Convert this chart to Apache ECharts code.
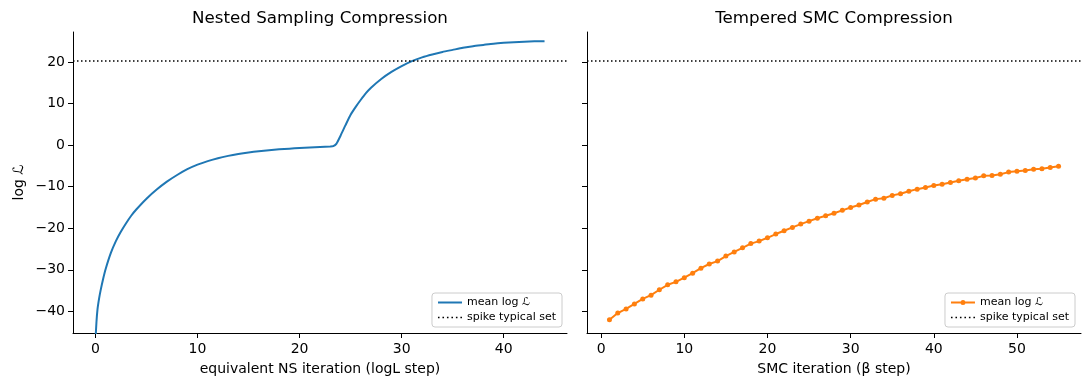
<!DOCTYPE html>
<html>
<head>
<meta charset="utf-8">
<script src="https://cdn.jsdelivr.net/npm/echarts@6/dist/echarts.min.js"></script>
<style>
  html, body { margin: 0; padding: 0; background: #fff; }
  #chart { width: 1089px; height: 390px; }
</style>
</head>
<body>
<div id="chart"></div>
<script>
// nested sampling: equivalent NS iteration vs mean log L
const nsX = [0, 0.1, 0.2, 0.35, 0.5, 0.75, 1, 1.5, 2, 2.5, 3, 3.5, 4, 5, 6, 7, 8, 9, 10,
  11, 12, 13, 14, 15, 16, 17, 18, 19, 20, 21, 22, 23, 23.3, 23.6, 24, 24.5, 25, 25.5, 26,
  26.5, 27, 28, 29, 30, 31, 32, 33, 34, 35, 36, 37, 38, 39, 40, 41, 42, 43, 44];
const nsY = [-47, -42.5, -39.5, -37, -35, -32.2, -29.8, -26, -23.1, -20.8, -18.8, -17.0, -15.5, -12.9, -10.7, -8.8, -7.2, -5.8, -4.7,
  -3.85, -3.15, -2.6, -2.15, -1.78, -1.48, -1.22, -1.02, -0.86, -0.71, -0.57, -0.45, -0.33, -0.25, 0.3, 2.2, 4.8, 7.3, 9.2, 10.9,
  12.5, 13.8, 15.9, 17.6, 19.0, 20.2, 21.1, 21.8, 22.4, 22.9, 23.4, 23.8, 24.1, 24.4, 24.6, 24.75, 24.85, 24.95, 25.0];

// tempered SMC: beta step vs mean log L
const smcX = [1, 2, 3, 4, 5, 6, 7, 8, 9, 10, 11, 12, 13, 14, 15, 16, 17, 18, 19, 20,
  21, 22, 23, 24, 25, 26, 27, 28, 29, 30, 31, 32, 33, 34, 35, 36, 37, 38, 39, 40,
  41, 42, 43, 44, 45, 46, 47, 48, 49, 50, 51, 52, 53, 54, 55];
const smcY = [-42.0, -40.4, -39.4, -38.2, -37.0, -36.1, -34.8, -33.6, -32.9, -31.9,
  -30.8, -29.6, -28.6, -27.9, -26.7, -25.7, -24.7, -23.7, -23.1, -22.3,
  -21.4, -20.6, -19.8, -19.0, -18.3, -17.6, -17.0, -16.4, -15.7, -15.0,
  -14.4, -13.7, -13.0, -12.8, -12.1, -11.7, -11.1, -10.6, -10.2, -9.7,
  -9.4, -9.0, -8.6, -8.2, -7.9, -7.4, -7.3, -7.0, -6.5, -6.3,
  -6.1, -5.8, -5.7, -5.4, -5.1];

const spikeLevel = 20.2;
const yTicks = [-40, -30, -20, -10, 0, 10, 20];
const nsTicks = [0, 10, 20, 30, 40];
const smcTicks = [0, 10, 20, 30, 40, 50];

const legendNames = {
  ns_mean: 'mean log ℒ',
  ns_spike: 'spike typical set',
  smc_mean: 'mean log ℒ',
  smc_spike: 'spike typical set'
};

const FONT = 'DejaVu Sans';
const minus = (v) => String(v).replace('-', '\u2212');

// legend handles drawn like matplotlib: plain line, line with dot, dotted line
const solidIcon = 'path://M0,0h24v2h-24z';
const markerIcon = 'path://M0,2h9.6v2h-9.6z M14.4,2h9.6v2h-9.6z M9.5,3a2.5,2.5 0 1,1 5,0a2.5,2.5 0 1,1 -5,0z';
const dottedIcon = 'path://M0,0h1.6v1.6h-1.6z M4.6,0h1.6v1.6h-1.6z M9.2,0h1.6v1.6h-1.6z M13.8,0h1.6v1.6h-1.6z M18.4,0h1.6v1.6h-1.6z M23,0h1.6v1.6h-1.6z';

function xAxisCfg(idx, min, max, ticks, name) {
  return {
    type: 'value', gridIndex: idx, min: min, max: max,
    name: name, nameLocation: 'middle', nameGap: 29,
    nameTextStyle: { fontFamily: FONT, fontSize: 14, color: '#000' },
    axisLine: { onZero: false, lineStyle: { color: '#000', width: 1 } },
    axisTick: { customValues: ticks, length: 5, lineStyle: { color: '#000' } },
    axisLabel: { customValues: ticks, margin: 9, fontFamily: FONT, fontSize: 14, color: '#000', formatter: minus },
    splitLine: { show: false }
  };
}

function yAxisCfg(idx, showLabels) {
  return {
    type: 'value', gridIndex: idx, min: -45.2, max: 27.2,
    name: showLabels ? 'log ℒ' : '', nameLocation: 'middle', nameGap: 47,
    nameTextStyle: { fontFamily: FONT, fontSize: 14, color: '#000' },
    axisLine: { show: true, onZero: false, lineStyle: { color: '#000', width: 1 } },
    axisTick: { show: true, customValues: yTicks, length: 5, lineStyle: { color: '#000' } },
    axisLabel: { show: showLabels, customValues: yTicks, margin: 8, fontFamily: FONT, fontSize: 14, color: '#000', formatter: minus },
    splitLine: { show: false }
  };
}

function spikeSeries(name, idx) {
  return {
    name: name, type: 'line', xAxisIndex: idx, yAxisIndex: idx,
    data: [], symbol: 'none',
    itemStyle: { color: '#000' },
    lineStyle: { color: '#000', width: 1.5, type: [1.5, 2.5] },
    markLine: {
      silent: true, symbol: ['none', 'none'], label: { show: false },
      lineStyle: { color: '#000', width: 1.5, type: [1.5, 2.5] },
      data: [{ yAxis: spikeLevel }]
    }
  };
}

function legendCfg(right, items) {
  return {
    data: items, orient: 'vertical', right: right, bottom: 63,
    padding: [4, 6, 4, 6], itemGap: 4, itemWidth: 24, itemHeight: 10,
    backgroundColor: 'rgba(255,255,255,0.8)', borderColor: '#cccccc', borderWidth: 1, borderRadius: 3,
    textStyle: { fontFamily: FONT, fontSize: 11, color: '#000' },
    formatter: (n) => legendNames[n],
    selectedMode: false
  };
}

const chart = echarts.init(document.getElementById('chart'));
chart.setOption({
  animation: false,
  backgroundColor: '#fff',
  title: [
    { text: 'Nested Sampling Compression', left: 320, top: 10, textAlign: 'center', padding: 0,
      textStyle: { fontFamily: FONT, fontSize: 16.7, fontWeight: 'normal', color: '#000' } },
    { text: 'Tempered SMC Compression', left: 834, top: 10, textAlign: 'center', padding: 0,
      textStyle: { fontFamily: FONT, fontSize: 16.7, fontWeight: 'normal', color: '#000' } }
  ],
  grid: [
    { left: 73, right: 522, top: 32, bottom: 57 },
    { left: 587, right: 8, top: 32, bottom: 57 }
  ],
  xAxis: [
    xAxisCfg(0, -2.2, 46.2, nsTicks, 'equivalent NS iteration (logL step)'),
    xAxisCfg(1, -1.7, 57.7, smcTicks, 'SMC iteration (β step)')
  ],
  yAxis: [yAxisCfg(0, true), yAxisCfg(1, false)],
  legend: [
    legendCfg(527, [{ name: 'ns_mean', icon: solidIcon }, { name: 'ns_spike', icon: dottedIcon }]),
    legendCfg(14, [{ name: 'smc_mean', icon: markerIcon }, { name: 'smc_spike', icon: dottedIcon }])
  ],
  series: [
    {
      name: 'ns_mean', type: 'line', xAxisIndex: 0, yAxisIndex: 0,
      data: nsX.map((x, i) => [x, nsY[i]]),
      symbol: 'none', smooth: 0.2, clip: true,
      itemStyle: { color: '#1f77b4' },
      lineStyle: { color: '#1f77b4', width: 2 }
    },
    spikeSeries('ns_spike', 0),
    {
      name: 'smc_mean', type: 'line', xAxisIndex: 1, yAxisIndex: 1,
      data: smcX.map((x, i) => [x, smcY[i]]),
      symbol: 'circle', symbolSize: 5, showSymbol: true,
      itemStyle: { color: '#ff7f0e' },
      lineStyle: { color: '#ff7f0e', width: 2 }
    },
    spikeSeries('smc_spike', 1)
  ]
});
</script>
</body>
</html>
